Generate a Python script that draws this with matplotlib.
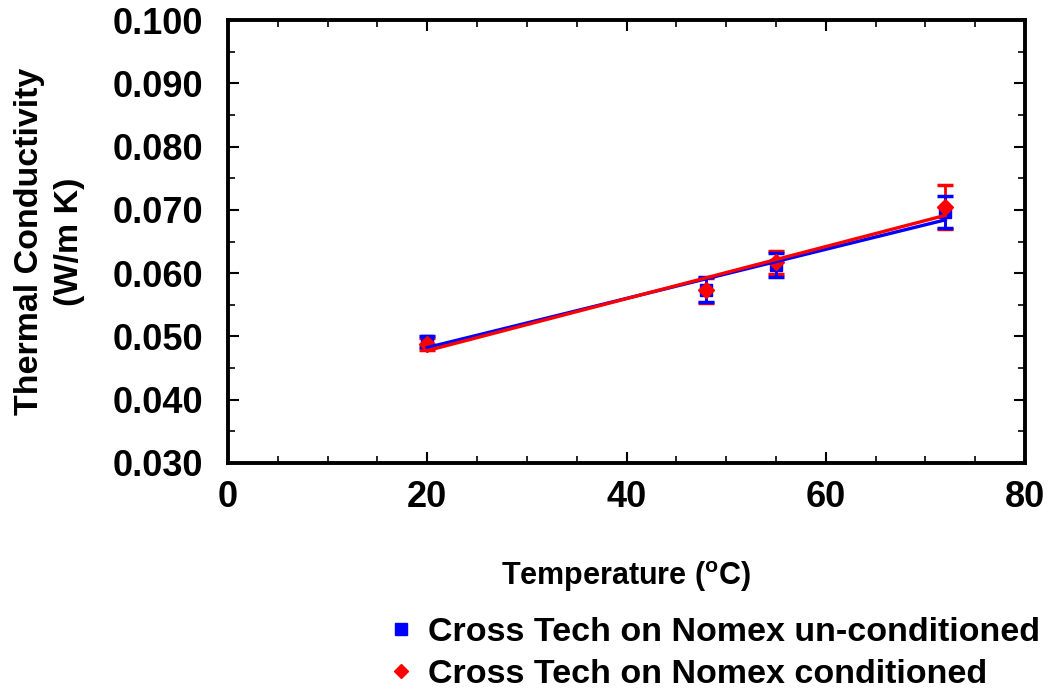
import numpy as np
import matplotlib
matplotlib.use("Agg")
import matplotlib.pyplot as plt
from matplotlib.lines import Line2D
from matplotlib.ticker import MultipleLocator

plt.rcParams['font.family'] = ['Liberation Sans', 'DejaVu Sans']
plt.rcParams['font.weight'] = 'bold'
plt.rcParams['mathtext.fontset'] = 'custom'
plt.rcParams['mathtext.rm'] = 'Liberation Sans:bold'
plt.rcParams['mathtext.bf'] = 'Liberation Sans:bold'

# data
temperature = [20, 48, 55, 72]
k_uncond = [0.0492, 0.0574, 0.0613, 0.0697]
err_uncond = [0.0008, 0.0020, 0.0019, 0.0025]
k_cond = [0.0488, 0.0573, 0.0617, 0.0705]
err_cond = [0.0010, 0.0020, 0.0018, 0.0035]

labels = ["Cross Tech on Nomex un-conditioned", "Cross Tech on Nomex conditioned"]

fig = plt.figure(figsize=(10.48, 6.94), dpi=100)
ax = fig.add_axes([0.2176, 0.333, 0.7605, 0.638])

series = [(k_cond, err_cond, "#ff0000", "D", 8),
          (k_uncond, err_uncond, "#0000ff", "s", 9)]
for k, err, col, mk, ms in series:
    ax.errorbar(temperature, k, yerr=err, fmt='none', ecolor=col,
                elinewidth=2, capsize=6, capthick=2.5, zorder=3)
for k, err, col, mk, ms in series[::-1]:
    ax.plot(temperature, k, mk, color=col, ms=ms, zorder=4)
    # linear trend line
    fit = np.polyfit(temperature, k, 1)
    xs = np.array([min(temperature), max(temperature)])
    ax.plot(xs, np.polyval(fit, xs), color=col, lw=2.4, zorder=5)

ax.set_xlim(0, 80)
ax.set_ylim(0.030, 0.100)
ax.xaxis.set_major_locator(MultipleLocator(20))
ax.xaxis.set_minor_locator(MultipleLocator(5))
ax.yaxis.set_major_locator(MultipleLocator(0.010))
ax.yaxis.set_minor_locator(MultipleLocator(0.005))
ax.yaxis.set_major_formatter(plt.FormatStrFormatter('%.3f'))
ax.tick_params(which='both', direction='in', top=True, right=True, labelsize=26)
ax.tick_params(axis='y', which='both', pad=18)
ax.tick_params(axis='x', which='both', pad=12)
ax.tick_params(which='major', length=8, width=1.5)
ax.tick_params(which='minor', length=5, width=1.2)
for s in ax.spines.values():
    s.set_linewidth(2.8)

ax.set_xlabel("Temperature ($^{\\mathrm{o}}$C)", fontsize=22, fontweight='bold', labelpad=32)
ax.set_ylabel("Thermal Conductivity\n(W/m K)", fontsize=24.5, fontweight='bold', labelpad=20,
              linespacing=1.35)

handles = [Line2D([], [], color="#0000ff", marker="s", ls="none", ms=8),
           Line2D([], [], color="#ff0000", marker="D", ls="none", ms=7)]
fig.legend(handles, labels, loc='upper left', bbox_to_anchor=(0.36, 0.13),
           frameon=False, fontsize=24.5, handlelength=0.6, handletextpad=0.5,
           labelspacing=0.32, borderaxespad=0)

fig.savefig("out.png", dpi=100)
